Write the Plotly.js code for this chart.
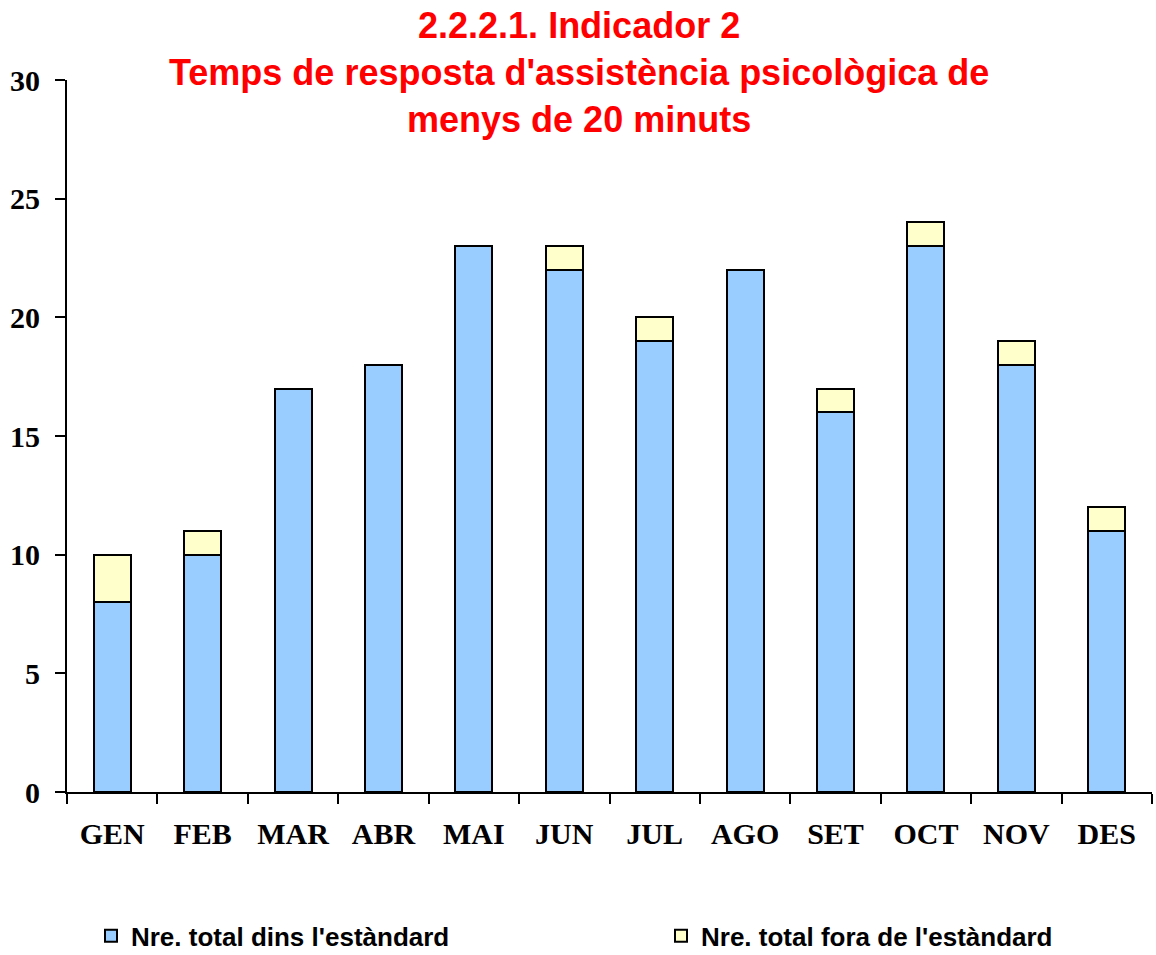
<!DOCTYPE html>
<html>
<head>
<meta charset="utf-8">
<script src="https://cdn.plot.ly/plotly-3.0.1.min.js"></script>
<style>body{margin:0;padding:0;background:#fff;}#chart{width:1156px;height:955px;}</style>
</head>
<body>
<div id="chart"></div>
<script>
var months = ["GEN","FEB","MAR","ABR","MAI","JUN","JUL","AGO","SET","OCT","NOV","DES"];
var dins = [8,10,17,18,23,22,19,22,16,23,18,11];
var fora = [2,1,0,0,0,1,1,0,1,1,1,1];
var seriesNames = ["Nre. total dins l'estàndard","Nre. total fora de l'estàndard"];
var yTicks = [0,5,10,15,20,25,30];
var titleText = "2.2.2.1. Indicador 2<br>Temps de resposta d'assistència psicològica de<br>menys de 20 minuts";

var data = [
  {type:'bar', x:months, y:dins, name:seriesNames[0], legend:'legend',
   marker:{color:'#99CCFF', line:{color:'#000', width:2}}},
  {type:'bar', x:months, y:fora, name:seriesNames[1], legend:'legend2',
   marker:{color:'#FFFFCC', line:{color:'#000', width:2}}}
];
var tickFont = {family:'Liberation Serif, Times New Roman, serif', size:30, color:'#000', weight:'bold'};
var legendFont = {family:'Arial, Liberation Sans, sans-serif', size:26, color:'#000', weight:'bold'};
var layout = {
  width:1156, height:955,
  margin:{l:67, r:4, t:80, b:163, autoexpand:false},
  barmode:'stack', bargap:0.59,
  paper_bgcolor:'#fff', plot_bgcolor:'#fff',
  annotations:[{text:titleText, xref:'paper', yref:'paper', x:0.472, y:1.108,
    xanchor:'center', yanchor:'top', showarrow:false, align:'center',
    font:{family:'Arial, Liberation Sans, sans-serif', size:36, color:'#FF0000', weight:'bold'}}],
  xaxis:{type:'category', showline:true, linecolor:'#000', linewidth:2,
    ticks:'outside', tickson:'boundaries', ticklen:10, tickwidth:2, tickcolor:'#000',
    ticklabelstandoff:14, showgrid:false, zeroline:false, tickfont:tickFont},
  yaxis:{range:[0,30], tickvals:yTicks, showline:true, linecolor:'#000', linewidth:2,
    ticks:'outside', ticklen:10, tickwidth:2, tickcolor:'#000',
    ticklabelstandoff:9, showgrid:false, zeroline:false, tickfont:tickFont},
  legend:{orientation:'h', x:0.0787, xanchor:'left', xref:'container', y:0.02, yanchor:'middle', yref:'container',
    itemwidth:30, font:legendFont},
  legend2:{orientation:'h', x:0.5718, xanchor:'left', xref:'container', y:0.02, yanchor:'middle', yref:'container',
    itemwidth:30, font:legendFont},
  showlegend:true
};
Plotly.newPlot('chart', data, layout, {displayModeBar:false});
</script>
</body>
</html>
